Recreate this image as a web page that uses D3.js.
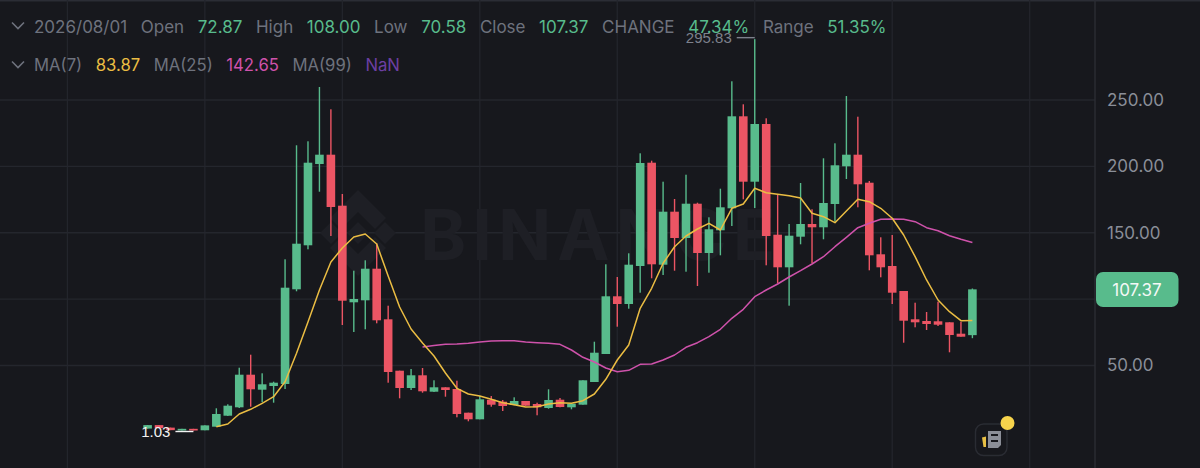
<!DOCTYPE html>
<html>
<head>
<meta charset="utf-8">
<script src="https://cdn.jsdelivr.net/npm/d3@7"></script>
<style>
html, body { margin: 0; padding: 0; background: #17181d; overflow: hidden; }
svg { display: block; font-family: Inter, "Open Sans", sans-serif; }
</style>
</head>
<body>
<svg></svg>
<script>
const WIDTH = 1200, HEIGHT = 468;
const AXIS_X = 1095;
const GREEN = "#58bb8c", RED = "#ec5564", YELLOW = "#ebbd43", MAGENTA = "#cf52ab", PURPLE = "#6c3fa3";
const GRAY = "#6e727d";

// monthly candles
const opens  = [2.5,5.1,3.2,1.03,2.3,1.2,3.9,12.18,18.51,43.07,31.77,34.56,36.06,107.4,140.55,201.79,208.8,170.38,97.61,99.11,122.92,84.8,46.08,33.05,42.62,30.26,33.58,32.3,14.44,9.47,24.24,22.73,20.24,23.26,21,17.98,24.24,18.51,20.47,37.57,58.66,102.13,96.33,124.95,202.77,125.93,165.86,146.05,171.88,134.75,151.85,168.42,237.72,188.46,231.92,148.53,123.97,147.03,156.59,154.11,171.66,200.06,208.8,187.7,133.77,124.95,106.12,84.8,83.52,83.3,82.54,73.95,72.87];
const highs  = [5.1,5.1,3.2,2.3,2.3,4.9,17.76,20.77,48.34,58.14,44.12,37.8,130,215.88,218.89,259.8,243,179.19,121.41,129.25,142.05,95.05,46.08,47.36,48.12,38.85,33.58,38.55,14.44,27.02,27.02,24.01,26.04,23.26,21.98,32.07,25.52,21.45,38.85,67.93,126.23,116.67,134.52,209.85,204.28,188.46,175.42,193.73,172.64,161.64,183.18,264.09,246.76,295.83,236.22,178.44,156.59,187.48,167.67,206.08,217.38,253,237.42,188.98,146.57,148.31,106.12,97.31,90.3,98.06,82.54,82.99,108];
const lows   = [2.5,2.8,1.3,1.03,1.03,1.2,3.9,11.96,17.98,18.96,22.28,21.98,32.3,105.9,137.53,180.92,147.55,80.51,75.24,77.27,81.79,37.04,25.29,31.54,29.51,30.04,26.5,10.98,7.97,9.47,18.96,15.72,20.02,19.72,12.49,17.46,18.51,17,20.47,37.57,58.66,79.23,92.79,104.84,115.69,118.17,121.41,120.66,109.89,119.91,133.01,155.09,175.2,168.64,125.48,111.92,95.05,141.3,126.99,145.07,158.32,190.49,169.17,121.71,116.44,96.33,67.18,78.78,76.74,79.75,59.94,71.69,70.58];
const closes = [5.1,2.8,1.3,2.3,1.03,4.9,13.47,19.72,43.07,32.07,35.84,37.04,108.61,141.75,202.77,208.8,169.4,98.81,100.09,122.92,84.05,45.1,33.05,42.62,30.56,33.58,31.54,13.47,9.47,24.54,20.47,19.49,23.26,19.72,18.51,24.01,18.74,21.22,38.85,59.64,102.13,96.33,125.93,202.54,126.23,165.86,146.05,171.88,134.75,152.6,169.17,237.72,188.46,231.92,147.55,123.97,147.78,156.59,154.11,172.41,200.81,208.8,186.5,133.01,123.97,104.84,83.75,82.54,81.26,80.73,72.98,71.69,107.37];

// moving averages, the leading candles have no value yet
const ma7Start = 6;
const ma7 = [3.9,5.93,13.47,17,21.53,26.5,37.8,59.19,82.77,106.87,127.97,138.51,146.8,149.06,141.53,117.42,94.07,77.5,66.95,57.16,44.35,32.82,28.53,27.02,24.54,21.98,20.47,18.74,18.96,21,21.98,21.53,23.48,28.53,39.6,54.14,65.44,93.09,108.15,126.99,139.49,147.55,152.83,157.12,152.07,168.42,171.66,183.49,180.17,178.97,177.91,176.18,164.65,162.09,157.57,166.38,175.2,173.39,168.42,160.89,148.31,131.96,114.41,99.34,90.53,83.75,83.87];
const ma25Start = 24;
const ma25 = [63.94,65.07,65.97,66.2,66.72,67.7,68.46,68.68,68.68,67.7,67.18,66.72,65.97,61.68,56.18,52.64,48.12,45.33,46.38,50.9,51.13,54.14,57.91,63.71,67.18,71.7,77.27,85.56,92.34,101.83,106.87,111.39,116.67,121.41,126.46,131.96,139.49,146.57,153.81,157.12,160.13,160.36,160.13,158.32,153.81,151.55,147.78,145.07,142.65];

const yTicks = [50, 100, 150, 200, 250];
const gridCandles = [-7, 5, 17, 29, 41, 53, 65, 77];
const lastPrice = 107.37;
const highIndex = 53, lowIndex = 4;
const highLabel = "295.83", lowLabel = "1.03";

const row1Labels = ["2026/08/01", "Open", "High", "Low", "Close", "CHANGE", "Range"];
const row1Values = [null, "72.87", "108.00", "70.58", "107.37", "47.34%", "51.35%"];
const row2Labels = ["MA(7)", "MA(25)", "MA(99)"];
const row2Values = ["83.87", "142.65", "NaN"];
const row2Colors = [YELLOW, MAGENTA, PURPLE];

const svg = d3.select("svg").attr("width", WIDTH).attr("height", HEIGHT);
svg.append("rect").attr("width", WIDTH).attr("height", HEIGHT).attr("fill", "#17181d");
svg.append("rect").attr("width", WIDTH).attr("height", 1.5).attr("fill", "#2b2d35");

const x = d3.scaleLinear().domain([0, 72]).range([147.6, 972.4]);
const y = d3.scaleLinear().domain([50, 250]).range([365.5, 100]);

// grid
svg.append("g").selectAll("line").data(gridCandles).enter().append("line")
    .attr("x1", d => x(d)).attr("x2", d => x(d))
    .attr("y1", 0).attr("y2", HEIGHT)
    .attr("stroke", "#23252c").attr("stroke-width", 1.3);
svg.append("g").selectAll("line").data(yTicks).enter().append("line")
    .attr("x1", 0).attr("x2", AXIS_X)
    .attr("y1", d => y(d)).attr("y2", d => y(d))
    .attr("stroke", "#24262d").attr("stroke-width", 1.3);

// watermark
const mark = svg.append("g").attr("fill", "#1e1f25");
mark.append("text")
    .attr("x", 420).attr("y", 260)
    .attr("font-size", 70).attr("font-weight", 700).attr("letter-spacing", 6)
    .text("BINANCE");
mark.append("path").attr("transform", "translate(358,233)").attr("d",
    "M0,-43 L28,-15 L17,-4 L0,-21 L-17,-4 L-28,-15 Z" +
    "M0,43 L28,15 L17,4 L0,21 L-17,4 L-28,15 Z" +
    "M0,-11 L11,0 L0,11 L-11,0 Z" +
    "M-27,-11 L-16,0 L-27,11 L-38,0 Z" +
    "M27,-11 L38,0 L27,11 L16,0 Z");

// candles
const candles = svg.append("g").selectAll("g").data(d3.range(opens.length)).enter().append("g")
    .attr("fill", i => closes[i] >= opens[i] ? GREEN : RED)
    .attr("stroke", "none");
candles.append("rect")
    .attr("x", i => x(i) - 0.7).attr("width", 1.4)
    .attr("y", i => y(highs[i]))
    .attr("height", i => y(lows[i]) - y(highs[i]));
candles.append("rect")
    .attr("x", i => x(i) - 4.3).attr("width", 8.6)
    .attr("y", i => y(Math.max(opens[i], closes[i])))
    .attr("height", i => Math.max(1, Math.abs(y(opens[i]) - y(closes[i]))));

// moving averages
function drawLine(values, start, color) {
    const line = d3.line().x((d, i) => x(i + start)).y(d => y(d));
    svg.append("path").attr("d", line(values))
        .attr("fill", "none").attr("stroke", color).attr("stroke-width", 1.5)
        .attr("stroke-linejoin", "round");
}
drawLine(ma25, ma25Start, MAGENTA);
drawLine(ma7, ma7Start, YELLOW);

// high and low markers
const hx = x(highIndex), hy = y(highs[highIndex]) - 1.5;
svg.append("line").attr("x1", hx - 18).attr("x2", hx).attr("y1", hy).attr("y2", hy)
    .attr("stroke", "#7d818c").attr("stroke-width", 1.4);
svg.append("text").attr("x", hx - 23).attr("y", hy + 5)
    .attr("text-anchor", "end").attr("fill", "#7d818c")
    .attr("font-family", "Liberation Sans").attr("font-size", 15).text(highLabel);
const lx = x(lowIndex), ly = y(lows[lowIndex]) + 1;
svg.append("line").attr("x1", lx - 18).attr("x2", lx).attr("y1", ly).attr("y2", ly)
    .attr("stroke", "#f2f2f2").attr("stroke-width", 1.4);
svg.append("text").attr("x", lx - 23).attr("y", ly + 5.5)
    .attr("text-anchor", "end").attr("fill", "#f2f2f2")
    .attr("font-family", "Liberation Sans").attr("font-size", 15).text(lowLabel);

// header rows, laid out one after the other
function chevron(cy) {
    svg.append("path").attr("d", `M12,${cy - 3.5} L18,${cy + 2.5} L24,${cy - 3.5}`)
        .attr("fill", "none").attr("stroke", GRAY).attr("stroke-width", 1.6);
}
function headerRow(items, baseline, size, gap) {
    let cx = 34;
    items.forEach(it => {
        const t = svg.append("text").attr("x", cx).attr("y", baseline)
            .attr("font-size", size).attr("fill", it.color).text(it.text);
        cx += t.node().getComputedTextLength() + gap;
    });
}
const row1 = [];
row1Labels.forEach((l, i) => {
    row1.push({ text: l, color: GRAY });
    if (row1Values[i]) row1.push({ text: row1Values[i], color: GREEN });
});
const row2 = [];
row2Labels.forEach((l, i) => {
    row2.push({ text: l, color: GRAY });
    row2.push({ text: row2Values[i], color: row2Colors[i] });
});
chevron(26);
chevron(65);
headerRow(row1, 32.5, 17, 13.6);
headerRow(row2, 71, 16.7, 13.5);

// price axis
svg.append("line").attr("x1", AXIS_X).attr("x2", AXIS_X).attr("y1", 0).attr("y2", HEIGHT)
    .attr("stroke", "#2b2d34").attr("stroke-width", 1.4);
const axis = d3.axisRight(y).tickValues(yTicks).tickSize(0).tickPadding(0)
    .tickFormat(v => v === 100 ? "" : d3.format(".2f")(v));
const axisG = svg.append("g").attr("transform", "translate(1107,0)").call(axis);
axisG.select(".domain").remove();
axisG.selectAll("text").attr("fill", "#8a8e98").attr("font-size", 17)
    .attr("font-family", "Inter, 'Open Sans', sans-serif");

// last price tag
svg.append("rect").attr("x", 1096).attr("y", 272).attr("width", 82.5).attr("height", 35)
    .attr("rx", 7).attr("fill", GREEN);
svg.append("text").attr("x", 1137).attr("y", 295.5).attr("text-anchor", "middle")
    .attr("fill", "#f4f8f6").attr("font-size", 17).text(d3.format(".2f")(lastPrice));

// news icon
svg.append("rect").attr("x", 975.5).attr("y", 424).attr("width", 31.5).attr("height", 31.5)
    .attr("rx", 8).attr("fill", "#17181d").attr("stroke", "#2a2c33").attr("stroke-width", 1.4);
svg.append("path").attr("d", "M988,431 H1001 V445 L998,448 H988 Z").attr("fill", "#8b8e97");
svg.append("path").attr("d", "M991,435 H998 M991,441 H998").attr("stroke", "#17181d").attr("stroke-width", 2);
svg.append("path").attr("d", "M982,437.5 L986,436.5 V447 H983.5 Z").attr("fill", "#e8bf45");
svg.append("circle").attr("cx", 1007.5).attr("cy", 423).attr("r", 7).attr("fill", "#f7d44c");
</script>
</body>
</html>
